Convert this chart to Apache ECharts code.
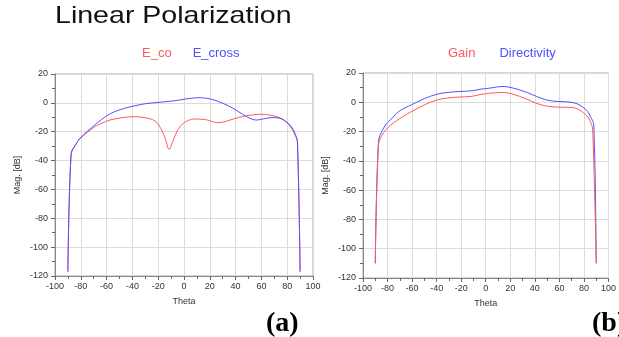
<!DOCTYPE html>
<html>
<head>
<meta charset="utf-8">
<script src="https://cdn.jsdelivr.net/npm/echarts@6/dist/echarts.min.js"></script>
<style>
html,body{margin:0;padding:0;background:#fff;}
#c{width:619px;height:337px;}
</style>
</head>
<body>
<div id="c"></div>
<script>
// ---- data ----
var titleText = 'Linear Polarization';
var xTicks = { min: -100, max: 100, interval: 20 };
var yTicks = { min: -120, max: 20, interval: 20 };

// (a) E_co
var coTheta = [-90, -87.5, -84, -80.6, -75, -70.3, -64, -57.4, -48, -39.3, -31, -22.5, -17.3, -14.2, -11.6, -8.3, -5, -3.1, -0.5, 3, 7.2, 15, 20, 25.3, 30, 35.7, 42, 48.6, 55, 60.2, 66, 71.8, 77, 80.9, 84, 86, 87.9, 90];
var coDb    = [-117, -36, -29, -24.6, -20.5, -17.2, -14.2, -11.9, -10.3, -9.6, -10.2, -12.5, -18.8, -25.7, -32.2, -25.7, -19, -16.5, -14.2, -12.3, -11.2, -11.4, -12.3, -13.7, -13.4, -11.9, -10.2, -8.9, -8.2, -7.9, -8.4, -9.6, -11.6, -14.9, -18.5, -22.3, -26.9, -117];

// (a) E_cross
var crTheta = [-90, -87.5, -84, -80.6, -75, -70.3, -64, -57.4, -48, -38, -30, -22.5, -10.9, -3.1, 1.3, 6, 11.6, 16, 20.6, 27, 35.7, 42, 48.6, 53, 56.4, 60, 66.7, 70, 74.4, 77.5, 80.9, 84, 86, 87.9, 90];
var crDb    = [-117, -35, -29, -24.6, -19.8, -16.2, -11.6, -7.6, -4.3, -2, -0.6, 0.1, 1.1, 2, 2.7, 3.2, 3.6, 3.3, 2.7, 0.8, -2.6, -6, -9.6, -11.4, -11.9, -11.4, -10.3, -10.2, -10.7, -12, -14.2, -17.5, -21.1, -26.9, -117];

// (b) Gain
var gainTheta = [-90, -87.4, -84.5, -81.3, -77.5, -73.5, -67, -60.4, -50, -39.4, -30, -21, -11.8, -3.9, 0, 6, 14.4, 21, 27.6, 34, 40.7, 46, 51.2, 57, 63, 69.5, 75, 80, 83, 85.3, 87.1, 90];
var gainDb    = [-110, -29, -22.5, -18.8, -15.6, -13.1, -9.5, -6.3, -1.8, 1.7, 3, 3.6, 4, 5.4, 5.8, 6.4, 6.7, 5.8, 4, 1.9, -0.5, -1.9, -2.8, -3.2, -3.4, -3.5, -4.6, -7.4, -9.9, -13.1, -18.8, -110];

// (b) Directivity
var dirTheta = [-90, -87.4, -84, -80, -76.1, -70.9, -65, -60.4, -50, -39.4, -30, -21, -10.5, -3.9, 0, 6, 13.1, 18, 22.3, 30, 38, 45, 51.2, 58, 64, 69.5, 75, 80, 83, 85.3, 88, 90];
var dirDb    = [-110, -26.8, -18.8, -13.8, -10.8, -6.3, -3.5, -1.7, 2.5, 5.6, 6.8, 7.4, 7.9, 9, 9.3, 10, 10.8, 10.5, 9.7, 7.8, 5.2, 2.8, 1.3, 0.6, 0.4, 0, -1.2, -3.9, -6.3, -9.7, -15.4, -110];

function pairs(xs, ys) { return xs.map(function (x, i) { return [x, ys[i]]; }); }

var RED = '#ff5a5a';
var BLUE = '#5050ff';
var FONT = 'Liberation Sans';

function xAx(gi) {
  return {
    type: 'value', gridIndex: gi,
    min: xTicks.min, max: xTicks.max, interval: xTicks.interval,
    name: 'Theta', nameLocation: 'middle', nameGap: 21,
    nameTextStyle: { fontSize: 9, color: '#333', fontFamily: FONT },
    axisLine: { show: true, onZero: false, lineStyle: { color: '#888', width: 1 } },
    axisTick: { show: true, inside: false, length: 4, lineStyle: { color: '#666' } },
    minorTick: { show: true, splitNumber: 2, length: 3, lineStyle: { color: '#666' } },
    axisLabel: { fontSize: 9, color: '#333', margin: 6, fontFamily: FONT },
    splitLine: { show: true, lineStyle: { color: '#dcdcdc', width: 1 } }
  };
}
function yAx(gi) {
  return {
    type: 'value', gridIndex: gi,
    min: yTicks.min, max: yTicks.max, interval: yTicks.interval,
    name: 'Mag. [dB]', nameLocation: 'middle', nameGap: 33, nameRotate: 90,
    nameTextStyle: { fontSize: 9, color: '#333', fontFamily: FONT },
    axisLine: { show: true, onZero: false, lineStyle: { color: '#888', width: 1 } },
    axisTick: { show: true, inside: false, length: 4, lineStyle: { color: '#666' } },
    minorTick: { show: true, splitNumber: 2, length: 3, lineStyle: { color: '#666' } },
    axisLabel: { fontSize: 9, color: '#333', margin: 7, fontFamily: FONT },
    splitLine: { show: true, lineStyle: { color: '#dcdcdc', width: 1 } }
  };
}
function line(name, data, color, xi, z) {
  return {
    name: name, type: 'line', xAxisIndex: xi, yAxisIndex: xi,
    data: data, showSymbol: false, symbol: 'none', smooth: 0.35,
    lineStyle: { color: color, width: 1 }, itemStyle: { color: color },
    z: z, animation: false
  };
}

var chart = echarts.init(document.getElementById('c'), null, { renderer: 'canvas' });
chart.setOption({
  backgroundColor: '#fff',
  animation: false,
  textStyle: { fontFamily: FONT },
  legend: [
    {
      data: [{ name: 'E_co', textStyle: { color: RED } }, { name: 'E_cross', textStyle: { color: BLUE } }],
      left: 132, top: 42, icon: 'none', itemWidth: 0, itemHeight: 10, itemGap: 16,
      textStyle: { fontSize: 13, fontFamily: FONT }, selectedMode: false
    },
    {
      data: [{ name: 'Gain', textStyle: { color: RED } }, { name: 'Directivity', textStyle: { color: BLUE } }],
      left: 438, top: 42, icon: 'none', itemWidth: 0, itemHeight: 10, itemGap: 19,
      textStyle: { fontSize: 13, fontFamily: FONT }, selectedMode: false
    }
  ],
  grid: [
    { left: 55, top: 74, width: 258, height: 202, show: true, borderColor: '#aaa', borderWidth: 1, backgroundColor: '#fff' },
    { left: 363, top: 73, width: 254, height: 205, show: true, borderColor: '#aaa', borderWidth: 1, backgroundColor: '#fff' }
  ],
  xAxis: [xAx(0), xAx(1)],
  yAxis: [yAx(0), yAx(1)],
  series: [
    line('E_co', pairs(coTheta, coDb), RED, 0, 2),
    line('E_cross', pairs(crTheta, crDb), BLUE, 0, 3),
    line('Directivity', pairs(dirTheta, dirDb), BLUE, 1, 2),
    line('Gain', pairs(gainTheta, gainDb), RED, 1, 3)
  ],
  graphic: [
    { type: 'text', left: 55, top: 4, scaleX: 1.19, scaleY: 1,
      style: { text: titleText, font: '24px "Liberation Sans"', fill: '#111' } },
    { type: 'text', left: 266, top: 310, style: { text: '(a)', font: 'bold 28px "Liberation Serif"', fill: '#000' } },
    { type: 'text', left: 592, top: 310, style: { text: '(b)', font: 'bold 28px "Liberation Serif"', fill: '#000' } }
  ]
});
</script>
</body>
</html>
